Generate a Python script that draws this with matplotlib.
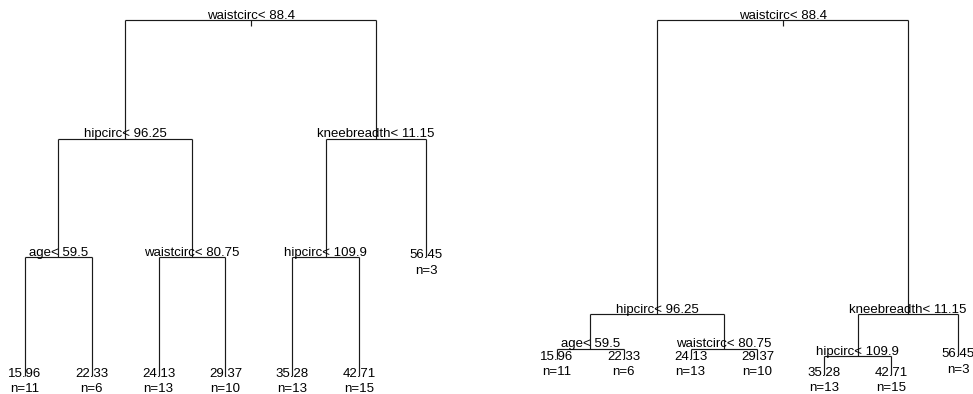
import matplotlib
matplotlib.use("Agg")
import matplotlib.pyplot as plt

plt.rcParams['font.family'] = ['Liberation Sans', 'DejaVu Sans']

# rpart tree structure (node k has children 2k and 2k+1)
split_nodes = [1, 2, 3, 4, 5, 6]
split_labels = ["waistcirc< 88.4", "hipcirc< 96.25", "kneebreadth< 11.15",
                "age< 59.5", "waistcirc< 80.75", "hipcirc< 109.9"]
leaf_nodes = [8, 9, 10, 11, 12, 13, 7]
leaf_values = ["15.96", "22.33", "24.13", "29.37", "35.28", "42.71", "56.45"]
leaf_n = [11, 6, 13, 10, 13, 15, 3]

# node heights for the non-uniform (deviance-scaled) panel, as fraction of tree height
all_nodes = [1, 2, 3, 4, 5, 6, 7, 8, 9, 10, 11, 12, 13]
dev_height = [0.0, 0.826, 0.826, 0.924, 0.924, 0.944, 0.944,
              0.952, 0.952, 0.952, 0.952, 0.996, 0.996]

PX = 0.72  # points per pixel at 100 dpi


def node_x():
    xs = {}
    for i, nd in enumerate(leaf_nodes):
        xs[nd] = i + 1
    for nd in sorted(split_nodes, reverse=True):
        xs[nd] = (xs[2 * nd] + xs[2 * nd + 1]) / 2
    return xs


def depth(nd):
    d = 0
    while nd > 1:
        nd //= 2
        d += 1
    return d


def draw_tree(ax, ys):
    xs = node_x()
    lc = dict(color='#1a1a1a', lw=0.85, solid_capstyle='butt')
    # root stub
    ax.plot([xs[1], xs[1]], [ys[1], ys[1] + 0.018], **lc)
    for nd, lab in zip(split_nodes, split_labels):
        l, r = 2 * nd, 2 * nd + 1
        ax.plot([xs[l], xs[r]], [ys[nd], ys[nd]], **lc)
        for c in (l, r):
            ax.plot([xs[c], xs[c]], [ys[nd], ys[c]], **lc)
        ax.annotate(lab, (xs[nd], ys[nd]), xytext=(0, 1.5 * PX),
                    textcoords='offset points', ha='center', va='baseline',
                    fontsize=9.5, color='black')
    for nd, v, n in zip(leaf_nodes, leaf_values, leaf_n):
        ax.annotate(v, (xs[nd], ys[nd]), xytext=(0, 2 * PX),
                    textcoords='offset points', ha='center', va='center',
                    fontsize=9.5, color='black')
        ax.annotate(f"n={n}", (xs[nd], ys[nd]), xytext=(0, -13.5 * PX),
                    textcoords='offset points', ha='center', va='center',
                    fontsize=9.5, color='black')


fig = plt.figure(figsize=(9.73, 3.94), dpi=100)
ax1 = fig.add_axes([0, 0, 0.5, 1])
ax2 = fig.add_axes([0.5, 0, 0.5, 1])

max_depth = max(depth(nd) for nd in all_nodes)
ys_uniform = {nd: depth(nd) / max_depth for nd in all_nodes}
ys_dev = dict(zip(all_nodes, dev_height))

draw_tree(ax1, ys_uniform)
draw_tree(ax2, ys_dev)

ax1.set_xlim(0.626, 7.906)
ax2.set_xlim(-0.055, 7.225)
for ax in (ax1, ax2):
    ax.set_ylim(1.0506, -0.0562)
    ax.axis('off')

fig.savefig("out.png", dpi=100, facecolor='white')
